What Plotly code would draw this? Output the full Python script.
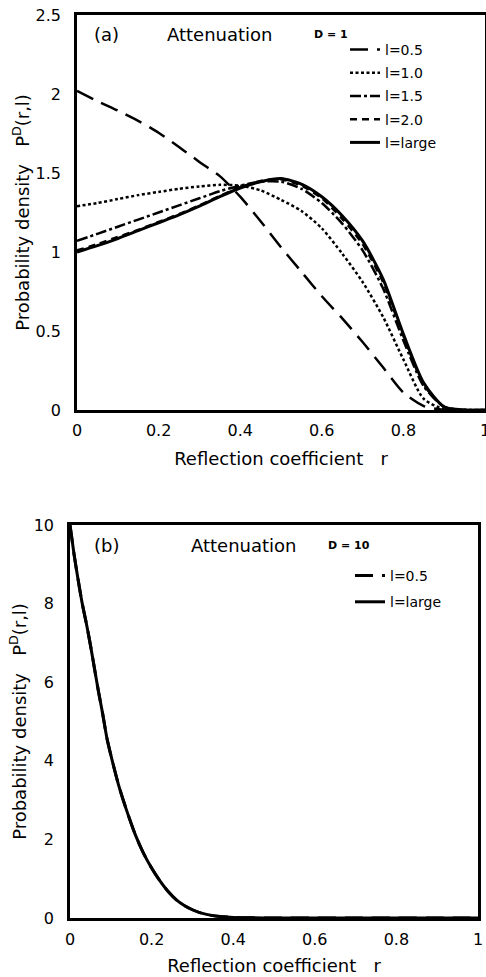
import plotly.graph_objects as go

# ---------------- data ----------------
# Panel (a): D = 1
r_a = [0.00, 0.05, 0.10, 0.15, 0.20, 0.25, 0.30, 0.35, 0.40, 0.45, 0.50,
       0.55, 0.60, 0.65, 0.70, 0.75, 0.80, 0.85, 0.90, 0.95, 1.00]
p_a_l05 = [2.02, 1.955, 1.895, 1.83, 1.755, 1.665, 1.57, 1.48, 1.35, 1.195, 1.03,
           0.875, 0.72, 0.58, 0.43, 0.27, 0.11, 0.025, 0.0, 0.0, 0.0]
p_a_l10 = [1.29, 1.31, 1.335, 1.36, 1.38, 1.40, 1.415, 1.425, 1.42, 1.39, 1.33,
           1.26, 1.15, 0.99, 0.81, 0.59, 0.32, 0.07, 0.005, 0.0, 0.0]
p_a_l15 = [1.07, 1.115, 1.16, 1.205, 1.25, 1.295, 1.34, 1.385, 1.42, 1.445, 1.445,
           1.40, 1.31, 1.18, 1.01, 0.77, 0.44, 0.15, 0.02, 0.0, 0.0]
p_a_l20 = [1.01, 1.05, 1.095, 1.14, 1.19, 1.24, 1.295, 1.355, 1.41, 1.45, 1.46,
           1.42, 1.34, 1.21, 1.05, 0.81, 0.47, 0.16, 0.02, 0.0, 0.0]
p_a_linf = [1.00, 1.04, 1.085, 1.135, 1.185, 1.235, 1.29, 1.35, 1.405, 1.445, 1.465,
            1.43, 1.35, 1.23, 1.07, 0.83, 0.48, 0.17, 0.02, 0.0, 0.0]

# Panel (b): D = 10
r_b = [0.00, 0.01, 0.02, 0.03, 0.04, 0.05, 0.06, 0.07, 0.08, 0.09, 0.10,
       0.12, 0.14, 0.16, 0.18, 0.20, 0.22, 0.24, 0.26, 0.28, 0.30,
       0.32, 0.35, 0.40, 0.45, 0.50, 0.60, 0.70, 0.80, 0.90, 1.00]
p_b_l05 = [10.0, 9.25, 8.6, 8.0, 7.5, 6.95, 6.35, 5.75, 5.2, 4.6, 4.15,
           3.35, 2.7, 2.12, 1.65, 1.27, 0.95, 0.68, 0.47, 0.32, 0.21,
           0.13, 0.06, 0.015, 0.004, 0.0, 0.0, 0.0, 0.0, 0.0, 0.0]
p_b_linf = [10.0, 9.25, 8.6, 8.0, 7.5, 6.95, 6.35, 5.75, 5.2, 4.6, 4.15,
            3.35, 2.7, 2.12, 1.65, 1.27, 0.95, 0.68, 0.47, 0.32, 0.21,
            0.13, 0.06, 0.015, 0.004, 0.0, 0.0, 0.0, 0.0, 0.0, 0.0]

labels_a = ["l=0.5", "l=1.0", "l=1.5", "l=2.0", "l=large"]
labels_b = ["l=0.5", "l=large"]
x_ticks = [0, 0.2, 0.4, 0.6, 0.8, 1]
x_ticktext = ["0", "0.2", "0.4", "0.6", "0.8", "1"]
ya_ticks = [0, 0.5, 1, 1.5, 2, 2.5]
ya_ticktext = ["0", "0.5", "1", "1.5", "2", "2.5"]
yb_ticks = [0, 2, 4, 6, 8, 10]
yb_ticktext = ["0", "2", "4", "6", "8", "10"]

# ---------------- figure ----------------
W, H = 486, 977
FONT = "DejaVu Sans"
fig = go.Figure()

styles_a = [
    dict(dash="18px,9px", width=2.5),
    dict(dash="3px,2.5px", width=2.5),
    dict(dash="11px,3px,3px,3px", width=2.5),
    dict(dash="7px,5px", width=2.5),
    dict(dash="solid", width=3),
]
series_a = [p_a_l05, p_a_l10, p_a_l15, p_a_l20, p_a_linf]
for i, (lab, ys, st) in enumerate(zip(labels_a, series_a, styles_a)):
    fig.add_trace(go.Scatter(
        x=r_a, y=ys, mode="lines", name=lab,
        line=dict(color="black", width=st["width"], dash=st["dash"],
                  shape="spline", smoothing=0.7),
        xaxis="x", yaxis="y", legend="legend", legendgroup=f"a{i}",
        showlegend=True))

styles_b = [dict(dash="18px,9px", width=3), dict(dash="solid", width=3)]
series_b = [p_b_l05, p_b_linf]
for i, (lab, ys, st) in enumerate(zip(labels_b, series_b, styles_b)):
    fig.add_trace(go.Scatter(
        x=r_b, y=ys, mode="lines", name=lab,
        line=dict(color="black", width=st["width"], dash=st["dash"],
                  shape="spline", smoothing=0.6),
        xaxis="x2", yaxis="y2", legend="legend2", legendgroup=f"b{i}",
        showlegend=True))


def px_x(v):
    return v / W


def px_y(v):
    return 1 - v / H


axis_common = dict(
    showline=True, linecolor="black", linewidth=2.5, mirror=True,
    showgrid=False, zeroline=False, ticks="", automargin=False,
    tickfont=dict(family=FONT, size=16, color="black"),
    fixedrange=True, ticklabeloverflow="allow",
)

ytitle = "Probability density   P<sup>D</sup>(r,l)"
xtitle = "Reflection coefficient   r"

fig.update_layout(
    width=W, height=H,
    margin=dict(l=0, r=0, t=0, b=0),
    paper_bgcolor="white", plot_bgcolor="white",
    font=dict(family=FONT, color="black"),
    xaxis=dict(domain=[px_x(77), px_x(485)], range=[0, 1], anchor="y",
               tickvals=x_ticks, ticktext=x_ticktext, ticklabelstandoff=4,
               title=dict(text=xtitle, font=dict(family=FONT, size=18), standoff=14),
               **axis_common),
    yaxis=dict(domain=[px_y(410), px_y(15)], range=[0, 2.5], anchor="x",
               tickvals=ya_ticks, ticktext=ya_ticktext, ticklabelstandoff=10,
               title=dict(text=ytitle, font=dict(family=FONT, size=18), standoff=2),
               **axis_common),
    xaxis2=dict(domain=[px_x(70), px_x(478)], range=[0, 1], anchor="y2",
                tickvals=x_ticks, ticktext=x_ticktext, ticklabelstandoff=5,
                title=dict(text=xtitle, font=dict(family=FONT, size=18), standoff=12),
                **axis_common),
    yaxis2=dict(domain=[px_y(918), px_y(525)], range=[0, 10], anchor="x2",
                tickvals=yb_ticks, ticktext=yb_ticktext, ticklabelstandoff=10,
                title=dict(text=ytitle, font=dict(family=FONT, size=18), standoff=3),
                **axis_common),
    legend=dict(x=px_x(345), y=px_y(34), xanchor="left", yanchor="top",
                bgcolor="rgba(0,0,0,0)", traceorder="grouped", tracegroupgap=2,
                font=dict(family=FONT, size=14, color="black")),
    legend2=dict(x=px_x(350), y=px_y(560), xanchor="left", yanchor="top",
                 bgcolor="rgba(0,0,0,0)", traceorder="grouped", tracegroupgap=5,
                 font=dict(family=FONT, size=14, color="black")),
    showlegend=True,
)

ann = [
    ("(a)", 92, 35, 18, False),
    ("Attenuation", 165, 35, 18, False),
    ("D = 1", 312, 35, 11, True),
    ("(b)", 92, 545, 18, False),
    ("Attenuation", 189, 545, 18, False),
    ("D = 10", 326, 545, 11, True),
]
for text, x, y, size, bold in ann:
    fig.add_annotation(
        text=f"<b>{text}</b>" if bold else text,
        xref="paper", yref="paper", x=px_x(x), y=px_y(y),
        xanchor="left", yanchor="middle", showarrow=False,
        font=dict(family=FONT, size=size, color="black"))

fig.write_html(
    "out.html",
    config={"displayModeBar": False},
    post_script="document.body.style.margin='0';document.body.style.overflow='hidden';",
)
